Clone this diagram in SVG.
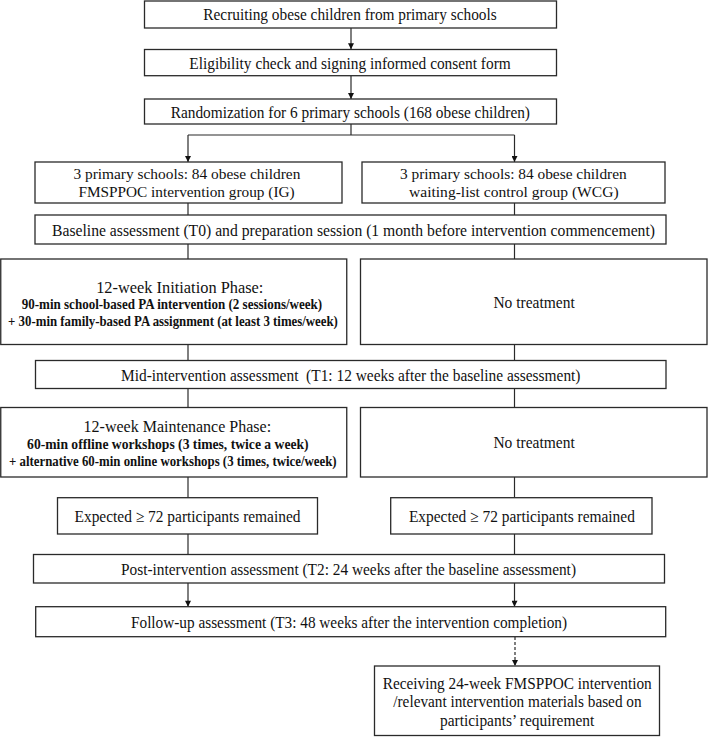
<svg xmlns="http://www.w3.org/2000/svg" width="708" height="737" viewBox="0 0 708 737">
<style>
.box{fill:#fff;stroke:#2a2a2a;stroke-width:1.3}
.ln{fill:none;stroke:#2a2a2a;stroke-width:1.2}
.dash{fill:none;stroke:#2a2a2a;stroke-width:1.2;stroke-dasharray:3 2}
text{font-family:"Liberation Serif","Times New Roman",serif;fill:#111;font-size:16.5px}
.sm{font-size:14px;font-weight:bold}
.two{font-size:15.5px}
</style>
<defs>
<marker id="ah" viewBox="0 0 10 10" refX="10" refY="5" markerWidth="8" markerHeight="6" markerUnits="userSpaceOnUse" orient="auto">
<path d="M0,0 L10,5 L0,10 z" fill="#111"/>
</marker>
</defs>
<rect width="708" height="737" fill="#fff"/>
<g id="connectors">
<line class="ln" x1="351" y1="28" x2="351" y2="49.3" marker-end="url(#ah)"/>
<line class="ln" x1="351" y1="75.7" x2="351" y2="99" marker-end="url(#ah)"/>
<polyline class="ln" points="351,124 351,135"/>
<polyline class="ln" points="188,135 514.5,135"/>
<line class="ln" x1="188" y1="135" x2="188" y2="162" marker-end="url(#ah)"/>
<line class="ln" x1="514.5" y1="135" x2="514.5" y2="162" marker-end="url(#ah)"/>
<line class="ln" x1="188" y1="203" x2="188" y2="215"/>
<line class="ln" x1="514.5" y1="203" x2="514.5" y2="215"/>
<line class="ln" x1="188" y1="244" x2="188" y2="259"/>
<line class="ln" x1="514.5" y1="244" x2="514.5" y2="259"/>
<line class="ln" x1="188" y1="344.5" x2="188" y2="360.5"/>
<line class="ln" x1="514.5" y1="344.5" x2="514.5" y2="360.5"/>
<line class="ln" x1="188" y1="388.5" x2="188" y2="407.5"/>
<line class="ln" x1="514.5" y1="388.5" x2="514.5" y2="407.5"/>
<line class="ln" x1="188" y1="477" x2="188" y2="497.7"/>
<line class="ln" x1="514.5" y1="477" x2="514.5" y2="497.7"/>
<line class="ln" x1="188" y1="534" x2="188" y2="554.5"/>
<line class="ln" x1="514.5" y1="534" x2="514.5" y2="554.5"/>
<line class="ln" x1="188" y1="583" x2="188" y2="606.7" marker-end="url(#ah)"/>
<line class="ln" x1="514.5" y1="583" x2="514.5" y2="606.7" marker-end="url(#ah)"/>
<line class="dash" x1="515" y1="637" x2="515" y2="666" marker-end="url(#ah)"/>
</g>
<g id="recruit">
<rect class="box" x="144.5" y="1" width="412" height="27"/>
<text x="203.3" y="20" textLength="293.4" lengthAdjust="spacingAndGlyphs">Recruiting obese children from primary schools</text>
</g>
<g id="eligibility">
<rect class="box" x="144.5" y="49.5" width="412" height="26.2"/>
<text x="189.3" y="68.5" textLength="321.4" lengthAdjust="spacingAndGlyphs">Eligibility check and signing informed consent form</text>
</g>
<g id="randomization">
<rect class="box" x="144.5" y="99" width="412" height="25"/>
<text x="170.7" y="117.5" textLength="359.3" lengthAdjust="spacingAndGlyphs">Randomization for 6 primary schools (168 obese children)</text>
</g>
<g id="ig">
<rect class="box" x="35" y="162" width="307" height="41"/>
<text class="two" x="73.4" y="178.5" textLength="227" lengthAdjust="spacingAndGlyphs">3 primary schools: 84 obese children</text>
<text class="two" x="78.4" y="196.5" textLength="216.3" lengthAdjust="spacingAndGlyphs">FMSPPOC intervention group (IG)</text>
</g>
<g id="wcg">
<rect class="box" x="362" y="162" width="303" height="41"/>
<text class="two" x="400" y="178.5" textLength="226.7" lengthAdjust="spacingAndGlyphs">3 primary schools: 84 obese children</text>
<text class="two" x="409" y="196.5" textLength="209.6" lengthAdjust="spacingAndGlyphs">waiting-list control group (WCG)</text>
</g>
<g id="baseline">
<rect class="box" x="35" y="215" width="631" height="29"/>
<text x="52" y="235.5" textLength="603" lengthAdjust="spacingAndGlyphs">Baseline assessment (T0) and preparation session (1 month before intervention commencement)</text>
</g>
<g id="initiation">
<rect class="box" x="0.75" y="259" width="346" height="85.5"/>
<text x="96.2" y="292.5" textLength="167.2" lengthAdjust="spacingAndGlyphs">12-week Initiation Phase:</text>
<text class="sm" x="21.7" y="309" textLength="300.5" lengthAdjust="spacingAndGlyphs">90-min school-based PA intervention (2 sessions/week)</text>
<text class="sm" x="8.1" y="326" textLength="329.8" lengthAdjust="spacingAndGlyphs">+ 30-min family-based PA assignment (at least 3 times/week)</text>
</g>
<g id="notreat1">
<rect class="box" x="360.5" y="259" width="346.5" height="85.5"/>
<text x="493.4" y="307.5" textLength="81.3" lengthAdjust="spacingAndGlyphs">No treatment</text>
</g>
<g id="mid">
<rect class="box" x="35.5" y="360.5" width="630.5" height="28"/>
<text x="121" y="380.5" textLength="459.5" lengthAdjust="spacingAndGlyphs" xml:space="preserve">Mid-intervention assessment  (T1: 12 weeks after the baseline assessment)</text>
</g>
<g id="maintenance">
<rect class="box" x="0.75" y="407.5" width="346" height="69.5"/>
<text x="83.6" y="431.5" textLength="187.5" lengthAdjust="spacingAndGlyphs">12-week Maintenance Phase:</text>
<text class="sm" x="27.1" y="449" textLength="281.5" lengthAdjust="spacingAndGlyphs">60-min offline workshops (3 times, twice a week)</text>
<text class="sm" x="9" y="466" textLength="327.6" lengthAdjust="spacingAndGlyphs">+ alternative 60-min online workshops (3 times, twice/week)</text>
</g>
<g id="notreat2">
<rect class="box" x="360.5" y="407.5" width="346.5" height="69.5"/>
<text x="493.4" y="447.5" textLength="81.3" lengthAdjust="spacingAndGlyphs">No treatment</text>
</g>
<g id="expectedL">
<rect class="box" x="57.5" y="497.7" width="260" height="36.3"/>
<text x="74.5" y="521.5" textLength="226" lengthAdjust="spacingAndGlyphs">Expected ≥ 72 participants remained</text>
</g>
<g id="expectedR">
<rect class="box" x="390.7" y="497.7" width="261.3" height="36.3"/>
<text x="408.9" y="521.5" textLength="226" lengthAdjust="spacingAndGlyphs">Expected ≥ 72 participants remained</text>
</g>
<g id="post">
<rect class="box" x="33.5" y="554.5" width="631" height="28.5"/>
<text x="121" y="574.5" textLength="455" lengthAdjust="spacingAndGlyphs">Post-intervention assessment (T2: 24 weeks after the baseline assessment)</text>
</g>
<g id="followup">
<rect class="box" x="35.7" y="606.7" width="630" height="30"/>
<text x="131" y="627.5" textLength="436" lengthAdjust="spacingAndGlyphs">Follow-up assessment (T3: 48 weeks after the intervention completion)</text>
</g>
<g id="receiving">
<rect class="box" x="374.5" y="666" width="285" height="69.5"/>
<text x="382.7" y="688.5" textLength="269" lengthAdjust="spacingAndGlyphs">Receiving 24-week FMSPPOC intervention</text>
<text x="393.3" y="707" textLength="248.3" lengthAdjust="spacingAndGlyphs">/relevant intervention materials based on</text>
<text x="440" y="725.5" textLength="154.3" lengthAdjust="spacingAndGlyphs">participants’ requirement</text>
</g>
</svg>
